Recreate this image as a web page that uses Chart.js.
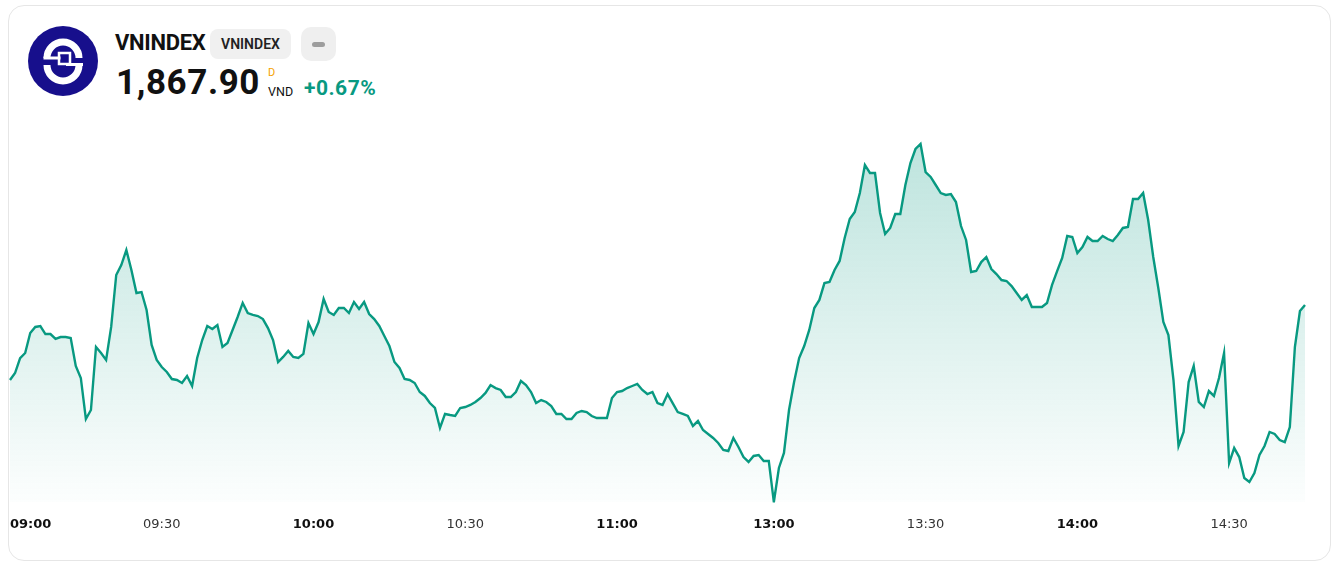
<!DOCTYPE html>
<html>
<head>
<meta charset="utf-8">
<script src="https://cdn.jsdelivr.net/npm/chart.js@4/dist/chart.umd.min.js"></script>
<style>
    body { margin: 0; background: #fff; font-family: Roboto, "Noto Sans", sans-serif; }
    .card {
        position: absolute; left: 8px; top: 5px; width: 1321px; height: 554px;
        border: 1px solid #e6e6e6; border-radius: 16px; background: #fff;
    }
    .abs { position: absolute; white-space: nowrap; }
    .title { left: 115px; top: 30px; font-size: 22px; font-weight: 700; color: #111; letter-spacing: -0.3px; }
    .badge {
        left: 210px; top: 29px; width: 81px; height: 30px; border-radius: 8px; background: #f0f0f0;
        font-size: 14px; font-weight: 600; color: #222; line-height: 30px; text-align: center;
    }
    .btn { left: 301px; top: 27px; width: 35px; height: 34px; border-radius: 10px; background: #efefef; }
    .btn span { position: absolute; left: 11px; top: 15px; width: 13px; height: 5px; border-radius: 3px; background: #9d9d9d; }
    .price { left: 116px; top: 62px; font-size: 35px; font-weight: 700; color: #111; letter-spacing: 0.6px; }
    .unitD { left: 268px; top: 66px; font-size: 11px; color: #f5a100; }
    .unitV { left: 268px; top: 84px; font-size: 12.5px; color: #111; }
    .change { left: 304px; top: 76px; font-size: 21px; font-weight: 700; color: #089981; letter-spacing: 0.5px; }
    #wrap { position: absolute; left: -4px; top: 125px; width: 1323px; height: 421px; }
</style>
</head>
<body>
<div class="card"></div>
<svg class="abs" style="left:28px;top:26px" width="70" height="70" viewBox="-35 -35 70 70">
    <circle cx="0" cy="0" r="35" fill="#170f8c"/>
    <path d="M -16 -3 A 16 16 0 0 1 16 -3" stroke="#fff" stroke-width="7" fill="none"/>
    <path d="M 16 4 A 16 16 0 0 1 -16 4" stroke="#fff" stroke-width="7" fill="none"/>
    <rect x="-19.5" y="-4.5" width="17" height="3" fill="#fff"/>
    <rect x="-4" y="-8" width="11" height="11" stroke="#fff" stroke-width="2.5" fill="none"/>
    <rect x="3" y="2" width="17" height="3" fill="#fff"/>
</svg>
<div class="abs title">VNINDEX</div>
<div class="abs badge">VNINDEX</div>
<div class="abs btn"><span></span></div>
<div class="abs price">1,867.90</div>
<div class="abs unitD">D</div>
<div class="abs unitV">VND</div>
<div class="abs change">+0.67%</div>
<div id="wrap"><canvas id="chart"></canvas></div>
<script>
// intraday VNINDEX, one point per minute
const morningSession = [
    1861.65, 1862.23, 1863.48, 1863.90, 1865.57, 1866.07, 1866.15, 1865.48, 1865.48, 1865.07,
    1865.23, 1865.23, 1865.15, 1862.82, 1861.82, 1858.40, 1859.15, 1864.40, 1863.90, 1863.32,
    1866.07, 1870.40, 1871.23, 1872.48, 1870.82, 1868.90, 1868.98, 1867.48, 1864.57, 1863.32,
    1862.73, 1862.32, 1861.73, 1861.65, 1861.40, 1861.98, 1861.15, 1863.48, 1864.98, 1866.15,
    1865.90, 1866.23, 1864.40, 1864.73, 1865.82, 1866.90, 1868.07, 1867.23, 1867.07, 1866.98,
    1866.73, 1865.98, 1864.98, 1863.15, 1863.57, 1864.07, 1863.57, 1863.48, 1863.82, 1866.40,
    1865.48, 1866.48, 1868.40, 1867.32, 1867.07, 1867.65, 1867.65, 1867.23, 1868.15, 1867.57,
    1868.15, 1867.15, 1866.73, 1866.15, 1865.32, 1864.48, 1863.15, 1862.65, 1861.73, 1861.65,
    1861.40, 1860.65, 1860.32, 1859.73, 1859.32, 1857.65, 1858.82, 1858.73, 1858.65, 1859.32,
    1859.40, 1859.57, 1859.82, 1860.15, 1860.57, 1861.23, 1860.98, 1860.82, 1860.23, 1860.23,
    1860.65, 1861.57, 1861.23, 1860.65, 1859.73, 1859.98, 1859.82, 1859.48, 1858.82, 1858.82,
    1858.40, 1858.40, 1858.90, 1859.07, 1858.98, 1858.65, 1858.48, 1858.48, 1858.48, 1860.15,
    1860.65, 1860.73, 1860.98, 1861.15, 1861.32, 1860.82, 1860.48, 1860.65, 1859.73, 1859.57,
    1860.48, 1859.73, 1858.98, 1858.82, 1858.65, 1857.82, 1858.23, 1857.48, 1857.15, 1856.82,
    1856.40, 1855.82, 1855.73, 1856.82, 1856.07, 1855.23, 1854.82, 1855.32, 1855.40, 1854.90, 1854.90
];
const afternoonSession = [
    1851.48, 1854.32, 1855.57, 1859.15, 1861.48, 1863.48, 1864.48, 1865.82, 1867.65, 1868.32,
    1869.73, 1869.82, 1870.82, 1871.57, 1873.48, 1875.07, 1875.65, 1877.23, 1879.57, 1878.90,
    1878.90, 1875.57, 1873.82, 1874.32, 1875.48, 1875.48, 1877.90, 1879.73, 1880.90, 1881.32,
    1878.98, 1878.57, 1877.90, 1877.23, 1877.07, 1877.15, 1876.48, 1874.48, 1873.32, 1870.65,
    1870.73, 1871.48, 1871.90, 1870.90, 1870.48, 1869.98, 1869.90, 1869.48, 1868.90, 1868.32,
    1868.73, 1867.73, 1867.73, 1867.73, 1868.07, 1869.57, 1870.73, 1871.82, 1873.65, 1873.57,
    1872.23, 1872.73, 1873.57, 1873.23, 1873.23, 1873.65, 1873.40, 1873.23, 1873.73, 1874.32,
    1874.40, 1876.73, 1876.73, 1877.23, 1874.98, 1871.90, 1869.32, 1866.48, 1865.40, 1861.65,
    1856.15, 1857.32, 1861.48, 1862.82, 1859.82, 1859.40, 1860.73, 1860.32, 1861.82, 1863.90,
    1854.73, 1855.98, 1855.23, 1853.48, 1853.15, 1853.90, 1855.40, 1856.15, 1857.32, 1857.15,
    1856.65, 1856.48, 1857.73, 1864.40, 1867.40, 1867.90
];
const sessions = [['09:00', '11:30'], ['13:00', '14:45']];
const tickLabels = ['09:00', '09:30', '10:00', '10:30', '11:00', '13:00', '13:30', '14:00', '14:30'];

const lineColor = '#089981';

// build minute labels for both sessions
const toMin = s => parseInt(s.slice(0, 2)) * 60 + parseInt(s.slice(3));
const pad = n => String(n).padStart(2, '0');
const times = [];
sessions.forEach(([from, to]) => {
    for (let m = toMin(from); m <= toMin(to); m++) {
        times.push(`${pad(Math.floor(m / 60))}:${pad(m % 60)}`);
    }
});
const prices = morningSession.concat(afternoonSession);

const isHour = v => times[v] && times[v].endsWith(':00');

new Chart(document.getElementById('chart'), {
    type: 'line',
    data: {
        labels: times,
        datasets: [{
            data: prices,
            borderColor: lineColor,
            borderWidth: 2.4,
            pointRadius: 0,
            tension: 0,
            fill: 'start',
            backgroundColor: (ctx) => {
                const { ctx: c, chartArea } = ctx.chart;
                if (!chartArea) return 'rgba(8,153,129,0.1)';
                const g = c.createLinearGradient(0, chartArea.top, 0, chartArea.bottom);
                g.addColorStop(0, 'rgba(8,153,129,0.28)');
                g.addColorStop(1, 'rgba(8,153,129,0.01)');
                return g;
            }
        }]
    },
    options: {
        responsive: true,
        maintainAspectRatio: false,
        animation: false,
        layout: { padding: 0 },
        plugins: {
            legend: { display: false },
            tooltip: { enabled: false }
        },
        scales: {
            x: {
                offset: false,
                grid: { display: false, drawTicks: false },
                border: { display: false },
                afterBuildTicks: (scale) => {
                    const kept = scale.ticks.filter(t => tickLabels.includes(times[t.value]));
                    kept.push({ value: times.length - 1 });
                    scale.ticks = kept;
                },
                ticks: {
                    autoSkip: false,
                    maxRotation: 0,
                    align: 'inner',
                    padding: 14,
                    callback: (v) => tickLabels.includes(times[v]) ? times[v] : '',
                    color: (ctx) => isHour(ctx.tick && ctx.tick.value) ? '#111' : '#333',
                    font: (ctx) => ({
                        family: '"DejaVu Sans", sans-serif',
                        size: 13,
                        weight: isHour(ctx.tick && ctx.tick.value) ? 'bold' : 'normal'
                    })
                }
            },
            y: {
                display: false,
                min: 1851.45,
                max: 1882.9
            }
        }
    }
});
</script>
</body>
</html>
